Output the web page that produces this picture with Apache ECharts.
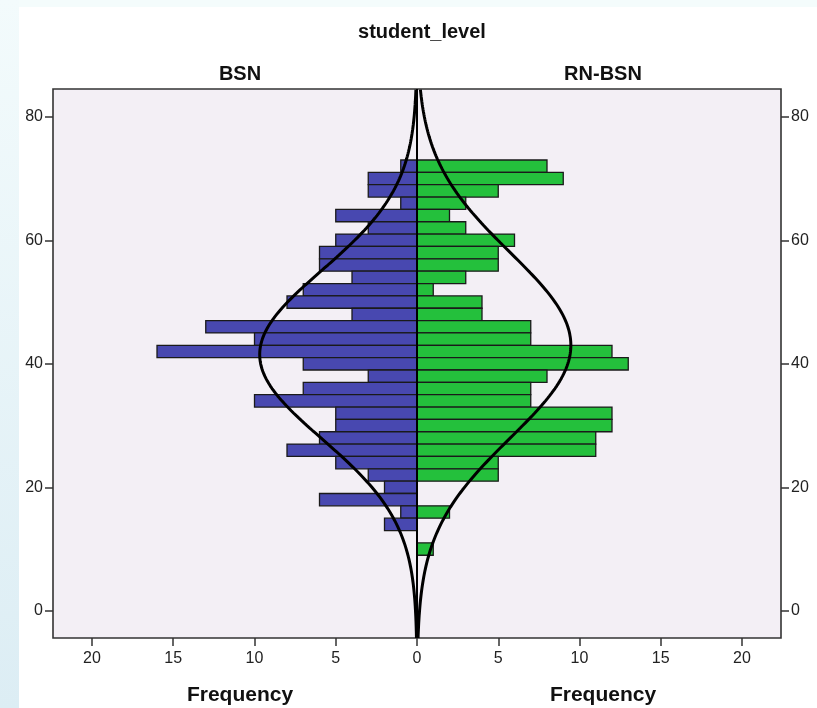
<!DOCTYPE html>
<html>
<head>
<meta charset="utf-8">
<script src="https://cdn.jsdelivr.net/npm/echarts@6/dist/echarts.min.js"></script>
<style>
html,body{margin:0;padding:0;width:817px;height:708px;overflow:hidden;}
body{
  background:
    linear-gradient(to bottom,#f3fbfc 0,#dcedf4 100%) left top/19px 708px no-repeat,
    linear-gradient(to bottom,#f4fcfc 0,#f4fcfc 100%) left top/817px 7px no-repeat,
    #ffffff;
}
#chart{width:817px;height:708px;}
</style>
</head>
<body>
<div id="chart"></div>
<script>
// Bin centres (bins are 2 units wide), top to bottom
const binCenters = [72,70,68,66,64,62,60,58,56,54,52,50,48,46,44,42,40,38,36,34,32,30,28,26,24,22,20,18,16,14,12,10];
// Frequencies per bin
const bsnCounts   = [1,3,3,1,5,3,5,6,6,4,7,8,4,13,10,16,7,3,7,10,5,5,6,8,5,3,2,6,1,2,0,0];
const rnbsnCounts = [8,9,5,3,2,3,6,5,5,3,1,4,4,7,7,12,13,8,7,7,12,12,11,11,5,5,0,0,2,0,0,1];
const binWidth = 2;
// Fitted normal curve parameters
const bsnMean = 41.5, bsnSd = 13.6;
const rnbsnMean = 43.0, rnbsnSd = 15.0;
// Axis ticks
const freqTicks = [-20,-15,-10,-5,0,5,10,15,20];
const valueTicks = [0,20,40,60,80];
const yMin = -4.4, yMax = 84.5, xMax = 22.4;

const FONT = '"Liberation Sans", Arial, sans-serif';

function normalCurve(n, mean, sd, sign){
  const pts = [];
  const k = n * binWidth / (sd * Math.sqrt(2*Math.PI));
  for (let y = yMin; y <= yMax + 1e-9; y += 0.2){
    const z = (y - mean) / sd;
    pts.push([sign * k * Math.exp(-0.5*z*z), y]);
  }
  return pts;
}
const sum = a => a.reduce((s,v)=>s+v,0);

function barData(counts, sign){
  const out = [];
  binCenters.forEach((c,i)=>{ if (counts[i] > 0) out.push([c, sign*counts[i]]); });
  return out;
}
function makeRender(color){
  return function(params, api){
    const yc = api.value(0), v = api.value(1);
    const p1 = api.coord([0, yc + binWidth/2]);
    const p2 = api.coord([v, yc - binWidth/2]);
    return {
      type:'rect',
      shape:{x:Math.min(p1[0],p2[0]), y:p1[1], width:Math.abs(p2[0]-p1[0]), height:p2[1]-p1[1]},
      style:{fill:color, stroke:'#1a1a1a', lineWidth:1.3}
    };
  };
}

const chart = echarts.init(document.getElementById('chart'), null, {renderer:'canvas'});
const axisLabelStyle = {fontSize:16, color:'#222', fontFamily:FONT};
const tickStyle = {color:'#333', width:1.5};

chart.setOption({
  backgroundColor:'transparent',
  animation:false,
  title:[
    {text:'student_level', left:417, top:17, textAlign:'center', textStyle:{fontSize:20, fontWeight:'bold', color:'#111', fontFamily:FONT}},
    {text:'BSN', left:235, top:59, textAlign:'center', textStyle:{fontSize:20, fontWeight:'bold', color:'#111', fontFamily:FONT}},
    {text:'RN-BSN', left:598, top:59, textAlign:'center', textStyle:{fontSize:20, fontWeight:'bold', color:'#111', fontFamily:FONT}},
    {text:'Frequency', left:235, top:680, textAlign:'center', textStyle:{fontSize:21, fontWeight:'bold', color:'#111', fontFamily:FONT}},
    {text:'Frequency', left:598, top:680, textAlign:'center', textStyle:{fontSize:21, fontWeight:'bold', color:'#111', fontFamily:FONT}}
  ],
  grid:{left:53, right:36, top:89, bottom:70, show:true, backgroundColor:'#f3eff5', borderColor:'#333', borderWidth:1.6},
  xAxis:{
    type:'value', min:-xMax, max:xMax, position:'bottom',
    axisLine:{show:false, onZero:false},
    splitLine:{show:false},
    axisTick:{show:true, inside:false, length:8, customValues:freqTicks, lineStyle:tickStyle},
    axisLabel:Object.assign({customValues:freqTicks, margin:13, formatter:v=>String(Math.abs(v))}, axisLabelStyle)
  },
  yAxis:[
    {type:'value', position:'left', min:yMin, max:yMax,
     axisLine:{show:false, onZero:false}, splitLine:{show:false},
     axisTick:{show:true, inside:false, length:8, customValues:valueTicks, lineStyle:tickStyle},
     axisLabel:Object.assign({customValues:valueTicks, margin:10}, axisLabelStyle)},
    {type:'value', position:'right', min:yMin, max:yMax,
     axisLine:{show:false, onZero:false}, splitLine:{show:false},
     axisTick:{show:true, inside:false, length:8, customValues:valueTicks, lineStyle:tickStyle},
     axisLabel:Object.assign({customValues:valueTicks, margin:10}, axisLabelStyle)}
  ],
  series:[
    {type:'custom', name:'BSN', renderItem:makeRender('#4848b0'), data:barData(bsnCounts,-1), encode:{x:1,y:0}, z:2, silent:true},
    {type:'custom', name:'RN-BSN', renderItem:makeRender('#24c03c'), data:barData(rnbsnCounts,1), encode:{x:1,y:0}, z:2, silent:true},
    {type:'line', data:normalCurve(sum(bsnCounts), bsnMean, bsnSd, -1), showSymbol:false, symbol:'none',
     lineStyle:{color:'#000', width:3}, z:5, silent:true,
     markLine:{silent:true, symbol:'none', label:{show:false}, lineStyle:{color:'#000', width:2, type:'solid'}, data:[{xAxis:0}]}},
    {type:'line', data:normalCurve(sum(rnbsnCounts), rnbsnMean, rnbsnSd, 1), showSymbol:false, symbol:'none',
     lineStyle:{color:'#000', width:3}, z:5, silent:true}
  ]
});
</script>
</body>
</html>
